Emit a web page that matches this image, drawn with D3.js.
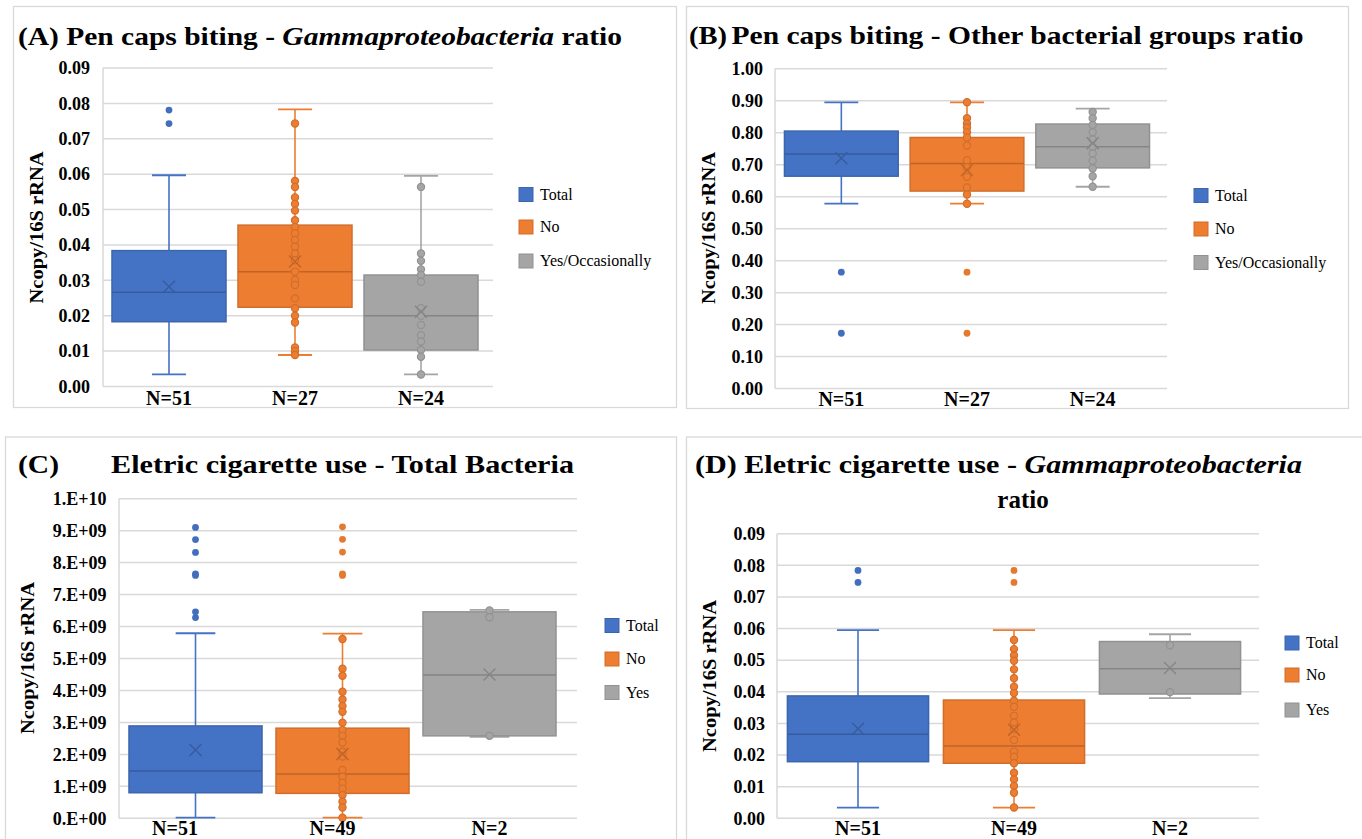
<!DOCTYPE html>
<html>
<head>
<meta charset="utf-8">
<script src="https://cdn.jsdelivr.net/npm/d3@7"></script>
<style>
  body { margin: 0; background: #fff; }
  svg { display: block; }
  text { font-family: "Liberation Serif", "Times New Roman", serif; fill: #000; }
</style>
</head>
<body>
<svg id="chart" width="1362" height="839"></svg>
<script>
// ---------- shared axis values ----------
const ratioTicks = [0, 0.01, 0.02, 0.03, 0.04, 0.05, 0.06, 0.07, 0.08, 0.09];
const ratioTickLabels = ["0.00", "0.01", "0.02", "0.03", "0.04", "0.05", "0.06", "0.07", "0.08", "0.09"];
const otherTicks = [0, 0.1, 0.2, 0.3, 0.4, 0.5, 0.6, 0.7, 0.8, 0.9, 1.0];
const otherTickLabels = ["0.00", "0.10", "0.20", "0.30", "0.40", "0.50", "0.60", "0.70", "0.80", "0.90", "1.00"];
const totalTicks = [0, 1e9, 2e9, 3e9, 4e9, 5e9, 6e9, 7e9, 8e9, 9e9, 1e10];
const totalTickLabels = ["0.E+00", "1.E+09", "2.E+09", "3.E+09", "4.E+09", "5.E+09", "6.E+09", "7.E+09", "8.E+09", "9.E+09", "1.E+10"];

// ---------- (A) Pen caps biting - Gammaproteobacteria ratio ----------
const penGroups = ["Total", "No", "Yes/Occasionally"];
const penCounts = ["N=51", "N=27", "N=24"];
const aWhiskerLow  = [0.0034, 0.0089, 0.0034];
const aQ1          = [0.0183, 0.0224, 0.0103];
const aMedian      = [0.0266, 0.0324, 0.0200];
const aQ3          = [0.0384, 0.0456, 0.0315];
const aWhiskerHigh = [0.0597, 0.0783, 0.0595];
const aMean        = [0.0282, 0.0353, 0.0211];
const aOutliers    = [[0.0781, 0.0743], [], []];
const aPoints = [
  [],
  [0.0743, 0.0581, 0.0564, 0.0534, 0.0516, 0.0497, 0.0470, 0.0451, 0.0433, 0.0414, 0.0395, 0.0376,
   0.0357, 0.0324, 0.0301, 0.0287, 0.0249, 0.0221, 0.0200, 0.0181, 0.0110, 0.0100, 0.0089],
  [0.0564, 0.0376, 0.0355, 0.0331, 0.0315, 0.0296, 0.0221, 0.0200, 0.0174, 0.0145, 0.0127, 0.0103,
   0.0084, 0.0034]
];

// ---------- (B) Pen caps biting - Other bacterial groups ratio ----------
const bWhiskerLow  = [0.578, 0.578, 0.631];
const bQ1          = [0.664, 0.6175, 0.690];
const bMedian      = [0.733, 0.704, 0.756];
const bQ3          = [0.805, 0.785, 0.827];
const bWhiskerHigh = [0.895, 0.895, 0.875];
const bMean        = [0.720, 0.683, 0.767];
const bOutliers    = [[0.364, 0.173], [0.364, 0.173], []];
const bPoints = [
  [],
  [0.895, 0.845, 0.829, 0.816, 0.801, 0.785, 0.760, 0.714, 0.692, 0.662, 0.629, 0.607, 0.578],
  [0.865, 0.845, 0.824, 0.801, 0.779, 0.756, 0.735, 0.712, 0.688, 0.664, 0.631]
];

// ---------- (C) Electric cigarette use - Total Bacteria ----------
const cigGroups = ["Total", "No", "Yes"];
const cigCounts = ["N=51", "N=49", "N=2"];
const cWhiskerLow  = [0.02e9, 0.02e9, 2.55e9];
const cQ1          = [0.80e9, 0.78e9, 2.58e9];
const cMedian      = [1.48e9, 1.39e9, 4.48e9];
const cQ3          = [2.89e9, 2.82e9, 6.46e9];
const cWhiskerHigh = [5.79e9, 5.78e9, 6.52e9];
const cMean        = [2.14e9, 2.01e9, 4.50e9];
const cOutliers = [
  [9.10e9, 8.72e9, 8.32e9, 7.65e9, 7.60e9, 6.46e9, 6.28e9],
  [9.12e9, 8.73e9, 8.33e9, 7.65e9, 7.60e9],
  []
];
const cPoints = [
  [],
  [5.61e9, 4.68e9, 4.46e9, 3.96e9, 3.72e9, 3.51e9, 3.33e9, 2.99e9, 2.76e9, 2.58e9, 2.37e9, 2.08e9,
   1.93e9, 1.51e9, 1.30e9, 1.11e9, 0.93e9, 0.73e9, 0.52e9, 0.34e9, 0.02e9],
  [6.50e9, 6.29e9, 2.58e9]
];

// ---------- (D) Electric cigarette use - Gammaproteobacteria ratio ----------
const dWhiskerLow  = [0.0034, 0.0034, 0.0380];
const dQ1          = [0.0179, 0.0174, 0.0393];
const dMedian      = [0.0266, 0.0229, 0.0473];
const dQ3          = [0.0387, 0.0374, 0.0559];
const dWhiskerHigh = [0.0595, 0.0595, 0.0582];
const dMean        = [0.0283, 0.0280, 0.0475];
const dOutliers    = [[0.0784, 0.0746], [0.0784, 0.0746], []];
const dPoints = [
  [],
  [0.0564, 0.0535, 0.0515, 0.0498, 0.0471, 0.0443, 0.0416, 0.0396, 0.0372, 0.0353, 0.0324, 0.0303,
   0.0282, 0.0248, 0.0211, 0.0195, 0.0174, 0.0144, 0.0123, 0.0102, 0.0081, 0.0034],
  [0.0547, 0.0399]
];

// ---------- styling ----------
const seriesFill = ["#4472C4", "#ED7D31", "#A5A5A5"];
const edgeOf   = c => d3.color(c).darker(0.35).formatHex();
const markOf   = c => d3.color(c).darker(0.6).formatHex();
const gridColor = "#d9d9d9";

const svg = d3.select("#chart");

function drawPanel(layout, data) {
  const g = svg.append("g");

  // panel frame
  g.append("rect")
    .attr("x", layout.frame[0]).attr("y", layout.frame[1])
    .attr("width", layout.frame[2] - layout.frame[0])
    .attr("height", layout.frame[3] - layout.frame[1])
    .attr("fill", "#fff").attr("stroke", gridColor).attr("stroke-width", 1.3);

  // title
  layout.titles.forEach(t => {
    const txt = g.append("text")
      .attr("x", t.x).attr("y", t.y)
      .attr("font-size", 25).attr("font-weight", "bold")
      .attr("text-anchor", t.anchor || "start");
    if (t.length) txt.attr("textLength", t.length).attr("lengthAdjust", "spacingAndGlyphs");
    t.parts.forEach(p => {
      txt.append("tspan").attr("font-style", p.italic ? "italic" : "normal").text(p.text);
    });
  });

  const ticks = data.ticks;
  const y = d3.scaleLinear()
    .domain([ticks[0], ticks[ticks.length - 1]])
    .range([layout.bottom, layout.top]);
  const x = d3.scaleBand().domain(data.groups).range(layout.band).padding(0);
  const bw = x.bandwidth();
  const boxW = bw * 0.905;
  const capW = bw * 0.27;

  // gridlines
  g.append("g").selectAll("line").data(ticks).join("line")
    .attr("x1", layout.left).attr("x2", layout.right)
    .attr("y1", d => y(d)).attr("y2", d => y(d))
    .attr("stroke", gridColor).attr("stroke-width", 1.5);
  // value axis line
  g.append("line")
    .attr("x1", layout.left).attr("x2", layout.left)
    .attr("y1", y(ticks[0])).attr("y2", y(ticks[ticks.length - 1]))
    .attr("stroke", gridColor).attr("stroke-width", 1.5);

  // tick labels
  const axis = d3.axisLeft(y).tickValues(ticks)
    .tickFormat((d, i) => data.tickLabels[i]).tickSize(0).tickPadding(0);
  const ag = g.append("g").attr("transform", `translate(${layout.tickX},0)`).call(axis);
  ag.select(".domain").remove();
  ag.selectAll("text")
    .attr("font-family", '"Liberation Serif", "Times New Roman", serif')
    .attr("font-size", 18).attr("font-weight", "bold").attr("fill", "#000");

  // axis title
  g.append("text")
    .attr("transform", `translate(${layout.yTitle[0]},${layout.yTitle[1]}) rotate(-90)`)
    .attr("text-anchor", "middle").attr("dominant-baseline", "central")
    .attr("font-size", 19).attr("font-weight", "bold")
    .attr("textLength", 152).attr("lengthAdjust", "spacingAndGlyphs")
    .text("Ncopy/16S rRNA");

  // boxes
  data.groups.forEach((grp, i) => {
    const cx = x(grp) + bw / 2;
    const fill = seriesFill[i];
    const edge = edgeOf(fill);
    const mark = markOf(fill);
    const bg = g.append("g");

    // whiskers
    bg.append("line").attr("x1", cx).attr("x2", cx)
      .attr("y1", y(data.whiskerHigh[i])).attr("y2", y(data.q3[i]))
      .attr("stroke", fill).attr("stroke-width", 1.6);
    bg.append("line").attr("x1", cx).attr("x2", cx)
      .attr("y1", y(data.q1[i])).attr("y2", y(data.whiskerLow[i]))
      .attr("stroke", fill).attr("stroke-width", 1.6);
    [data.whiskerHigh[i], data.whiskerLow[i]].forEach(v => {
      bg.append("line").attr("x1", cx - capW / 2).attr("x2", cx + capW / 2)
        .attr("y1", y(v)).attr("y2", y(v))
        .attr("stroke", fill).attr("stroke-width", 1.8);
    });

    // box
    bg.append("rect")
      .attr("x", cx - boxW / 2).attr("y", y(data.q3[i]))
      .attr("width", boxW).attr("height", y(data.q1[i]) - y(data.q3[i]))
      .attr("fill", fill).attr("stroke", edge).attr("stroke-width", 1.5);
    // median
    bg.append("line")
      .attr("x1", cx - boxW / 2).attr("x2", cx + boxW / 2)
      .attr("y1", y(data.median[i])).attr("y2", y(data.median[i]))
      .attr("stroke", mark).attr("stroke-width", 1.5);

    // inner points
    bg.append("g").selectAll("circle").data(data.points[i]).join("circle")
      .attr("cx", cx).attr("cy", d => y(d)).attr("r", 3.6)
      .attr("fill", fill).attr("stroke", edge).attr("stroke-width", 1.2);

    // mean marker
    const my = y(data.mean[i]), s = 6;
    bg.append("path")
      .attr("d", `M${cx - s},${my - s}L${cx + s},${my + s}M${cx - s},${my + s}L${cx + s},${my - s}`)
      .attr("stroke", mark).attr("stroke-width", 1.4).attr("fill", "none");

    // outliers
    bg.append("g").selectAll("circle").data(data.outliers[i]).join("circle")
      .attr("cx", cx).attr("cy", d => y(d)).attr("r", 3.4)
      .attr("fill", d3.color(fill).darker(0.1).formatHex());

    // count label
    g.append("text")
      .attr("x", cx + layout.countShift[i]).attr("y", layout.countY)
      .attr("text-anchor", "middle").attr("font-size", 20).attr("font-weight", "bold")
      .text(data.counts[i]);
  });

  // legend
  data.groups.forEach((grp, i) => {
    const ly = layout.legendY[i];
    g.append("rect")
      .attr("x", layout.legendX).attr("y", ly - 7).attr("width", 14).attr("height", 14)
      .attr("fill", seriesFill[i]).attr("stroke", edgeOf(seriesFill[i])).attr("stroke-width", 1);
    g.append("text")
      .attr("x", layout.legendX + 21).attr("y", ly).attr("dy", "0.33em")
      .attr("font-size", 16).text(grp);
  });
}

drawPanel({
  frame: [13.5, 6.5, 676.5, 407.5],
  titles: [{ x: 18, y: 45, length: 604, parts: [
    { text: "(A) Pen caps biting - " }, { text: "Gammaproteobacteria", italic: true }, { text: " ratio" }] }],
  left: 103, right: 493, top: 68, bottom: 386.5, band: [106, 484],
  tickX: 90, yTitle: [36, 227.5], countY: 405, countShift: [0, 0, 0],
  legendX: 519, legendY: [194.5, 227, 261]
}, {
  ticks: ratioTicks, tickLabels: ratioTickLabels, groups: penGroups, counts: penCounts,
  whiskerLow: aWhiskerLow, q1: aQ1, median: aMedian, q3: aQ3, whiskerHigh: aWhiskerHigh,
  mean: aMean, outliers: aOutliers, points: aPoints
});

drawPanel({
  frame: [686.5, 6.5, 1348.5, 408.5],
  titles: [
    { x: 689, y: 44, length: 38, parts: [{ text: "(B)" }] },
    { x: 731.5, y: 44, length: 572, parts: [{ text: "Pen caps biting - Other bacterial groups ratio" }] }],
  left: 775, right: 1167, top: 68.7, bottom: 388.6, band: [778.5, 1155.5],
  tickX: 763, yTitle: [708, 228], countY: 405.5, countShift: [0, 0, 0],
  legendX: 1194, legendY: [195.5, 229, 262.5]
}, {
  ticks: otherTicks, tickLabels: otherTickLabels, groups: penGroups, counts: penCounts,
  whiskerLow: bWhiskerLow, q1: bQ1, median: bMedian, q3: bQ3, whiskerHigh: bWhiskerHigh,
  mean: bMean, outliers: bOutliers, points: bPoints
});

drawPanel({
  frame: [5.5, 437, 676.5, 850],
  titles: [
    { x: 18, y: 473, length: 41, parts: [{ text: "(C)" }] },
    { x: 111, y: 473, length: 463, parts: [{ text: "Eletric cigarette use - Total Bacteria" }] }],
  left: 119, right: 577, top: 498.7, bottom: 818.3, band: [122, 563],
  tickX: 106.5, yTitle: [27, 658], countY: 835, countShift: [-20.5, -10, 0],
  legendX: 605, legendY: [625.5, 659, 692.5]
}, {
  ticks: totalTicks, tickLabels: totalTickLabels, groups: cigGroups, counts: cigCounts,
  whiskerLow: cWhiskerLow, q1: cQ1, median: cMedian, q3: cQ3, whiskerHigh: cWhiskerHigh,
  mean: cMean, outliers: cOutliers, points: cPoints
});

drawPanel({
  frame: [686.5, 437, 1372, 850],
  titles: [
    { x: 695, y: 473, length: 607, parts: [
      { text: "(D) Eletric cigarette use - " }, { text: "Gammaproteobacteria", italic: true }] },
    { x: 1023, y: 508, anchor: "middle", parts: [{ text: "ratio" }] }],
  left: 777, right: 1259, top: 533.7, bottom: 818.3, band: [780, 1248],
  tickX: 765, yTitle: [709.5, 676], countY: 835, countShift: [0, 0, 0],
  legendX: 1285, legendY: [643, 675, 710]
}, {
  ticks: ratioTicks, tickLabels: ratioTickLabels, groups: cigGroups, counts: cigCounts,
  whiskerLow: dWhiskerLow, q1: dQ1, median: dMedian, q3: dQ3, whiskerHigh: dWhiskerHigh,
  mean: dMean, outliers: dOutliers, points: dPoints
});
</script>
</body>
</html>
